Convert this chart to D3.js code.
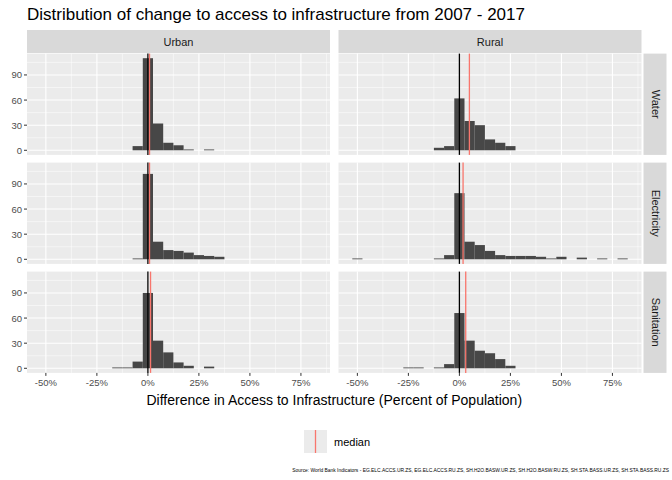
<!DOCTYPE html>
<html><head><meta charset="utf-8">
<script src="https://d3js.org/d3.v7.min.js"></script>
<style>body{margin:0;background:#fff}text{font-family:"Liberation Sans",Arial,sans-serif}</style>
</head><body><svg id="c" width="672" height="480"></svg>
<script>
const areas = ["Urban","Rural"];
const infra = ["Water","Electricity","Sanitation"];
const binCenters = [-50,-45,-40,-35,-30,-25,-20,-15,-10,-5,0,5,10,15,20,25,30,35,40,45,50,55,60,65,70,75,80];
// counts per bin center
const urbanWater =       {"-5":5,"0":110,"5":32,"10":9,"15":6,"20":1,"30":1};
const urbanElectricity = {"-5":1,"0":102,"5":21,"10":11,"15":10,"20":8,"25":5,"30":4,"35":3};
const urbanSanitation =  {"-15":1,"-10":1,"-5":8,"0":90,"5":33,"10":19,"15":7,"20":3,"30":2};
const ruralWater =       {"-10":3,"-5":5,"0":62,"5":35,"10":30,"15":13,"20":9,"25":5};
const ruralElectricity = {"-50":1,"-10":1,"-5":5,"0":79,"5":21,"10":17,"15":10,"20":5,"25":4,"30":4,"35":4,"40":3,"45":1,"50":3,"60":2,"70":1,"80":1};
const ruralSanitation =  {"-25":1,"-20":1,"-10":1,"-5":5,"0":66,"5":33,"10":21,"15":18,"20":11,"25":3};
const medians = {Urban:{Water:0.8,Electricity:0.8,Sanitation:1.3},Rural:{Water:4.9,Electricity:1.8,Sanitation:3.1}};
const data = {Urban:{Water:urbanWater,Electricity:urbanElectricity,Sanitation:urbanSanitation},
              Rural:{Water:ruralWater,Electricity:ruralElectricity,Sanitation:ruralSanitation}};
const xTicks = [-50,-25,0,25,50,75];
const yTicks = [0,30,60,90];

const svg = d3.select("#c");
const binW = 5;
const panelX = {Urban:27, Rural:338.5}, panelW = 303;
const rowTop = [53.6,162.6,271.6], panelH = 101.3;
const x = d3.scaleLinear().domain([-59.25,89.25]).range([0,panelW]);
const y = d3.scaleLinear().domain([-5.5,115.5]).range([panelH,0]);

svg.append("text").attr("x",27).attr("y",20).attr("font-size",17).attr("fill","#000")
  .text("Distribution of change to access to infrastructure from 2007 - 2017");

areas.forEach(a=>{
  svg.append("rect").attr("x",panelX[a]).attr("y",30).attr("width",panelW).attr("height",23).attr("fill","#d9d9d9");
  svg.append("text").attr("x",panelX[a]+panelW/2).attr("y",45.5).attr("text-anchor","middle").attr("font-size",11).attr("fill","#1a1a1a").text(a);
});
infra.forEach((f,i)=>{
  const sx = panelX.Rural+panelW+2;
  svg.append("rect").attr("x",sx).attr("y",rowTop[i]).attr("width",23).attr("height",panelH).attr("fill","#d9d9d9");
  svg.append("text").attr("transform",`translate(${sx+8},${rowTop[i]+panelH/2}) rotate(90)`).attr("text-anchor","middle").attr("font-size",11).attr("fill","#1a1a1a").text(f);
});

areas.forEach(a=>{
  infra.forEach((f,i)=>{
    const g = svg.append("g").attr("transform",`translate(${panelX[a]},${rowTop[i]})`);
    g.append("rect").attr("width",panelW).attr("height",panelH).attr("fill","#ebebeb");
    const minorX = xTicks.map(t=>t+12.5).concat([-62.5+0]).filter(t=>t>-59.25&&t<89.25);
    minorX.forEach(t=>g.append("line").attr("x1",x(t)).attr("x2",x(t)).attr("y1",0).attr("y2",panelH).attr("stroke","#fff").attr("stroke-width",0.5));
    [15,45,75,105].forEach(t=>g.append("line").attr("x1",0).attr("x2",panelW).attr("y1",y(t)).attr("y2",y(t)).attr("stroke","#fff").attr("stroke-width",0.5));
    xTicks.forEach(t=>g.append("line").attr("x1",x(t)).attr("x2",x(t)).attr("y1",0).attr("y2",panelH).attr("stroke","#fff").attr("stroke-width",1.1));
    yTicks.forEach(t=>g.append("line").attr("x1",0).attr("x2",panelW).attr("y1",y(t)).attr("y2",y(t)).attr("stroke","#fff").attr("stroke-width",1.1));
    const d = data[a][f];
    binCenters.forEach(c=>{
      const v = d[String(c)]||0;
      if(v>0) g.append("rect").attr("x",x(c-binW/2)).attr("width",x(c+binW/2)-x(c-binW/2)).attr("y",y(v)).attr("height",y(0)-y(v)).attr("fill","#474747");
    });
    g.append("line").attr("x1",x(0)).attr("x2",x(0)).attr("y1",0).attr("y2",panelH).attr("stroke","#000").attr("stroke-width",1.3);
    g.append("line").attr("x1",x(medians[a][f])).attr("x2",x(medians[a][f])).attr("y1",0).attr("y2",panelH).attr("stroke","#f8766d").attr("stroke-width",1.3);
    if(a==="Urban"){
      yTicks.forEach(t=>{
        g.append("line").attr("x1",-3).attr("x2",0).attr("y1",y(t)).attr("y2",y(t)).attr("stroke","#333");
        g.append("text").attr("x",-5).attr("y",y(t)+3.5).attr("text-anchor","end").attr("font-size",9.5).attr("fill","#4d4d4d").text(t);
      });
    }
    if(i===2){
      xTicks.forEach(t=>{
        g.append("line").attr("x1",x(t)).attr("x2",x(t)).attr("y1",panelH).attr("y2",panelH+3).attr("stroke","#333");
        g.append("text").attr("x",x(t)).attr("y",panelH+13).attr("text-anchor","middle").attr("font-size",9.5).attr("fill","#4d4d4d").text(t+"%");
      });
    }
  });
});

svg.append("text").attr("x",(27+641.5)/2).attr("y",405).attr("text-anchor","middle").attr("font-size",14).attr("fill","#000")
  .text("Difference in Access to Infrastructure (Percent of Population)");
svg.append("rect").attr("x",304).attr("y",430).attr("width",23).attr("height",23).attr("fill","#ebebeb");
svg.append("line").attr("x1",315.5).attr("x2",315.5).attr("y1",430).attr("y2",453).attr("stroke","#f8766d").attr("stroke-width",1.3);
svg.append("text").attr("x",334).attr("y",445.5).attr("font-size",11).attr("fill","#000").text("median");
svg.append("text").attr("x",669).attr("y",472).attr("text-anchor","end").attr("font-size",4.9).attr("fill","#000")
  .text("Source: World Bank Indicators - EG.ELC.ACCS.UR.ZS, EG.ELC.ACCS.RU.ZS, SH.H2O.BASW.UR.ZS, SH.H2O.BASW.RU.ZS, SH.STA.BASS.UR.ZS, SH.STA.BASS.RU.ZS");
</script></body></html>
